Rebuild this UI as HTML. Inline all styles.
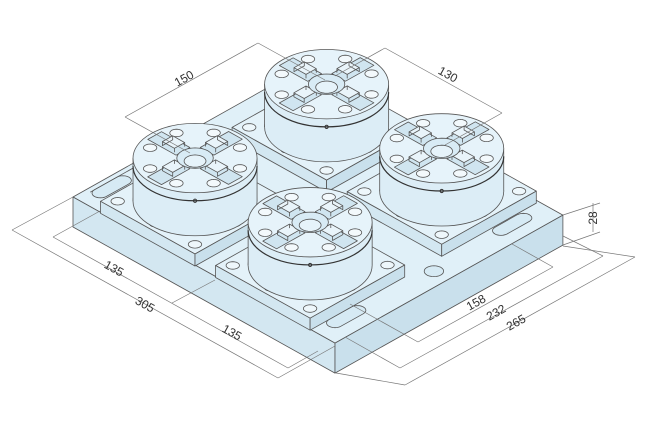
<!DOCTYPE html>
<html><head><meta charset="utf-8">
<style>
html,body{margin:0;padding:0;background:#fff;}
svg{display:block}
text{font-family:"Liberation Sans Narrow","Liberation Sans",sans-serif;font-size:12px;fill:#333;}
</style></head>
<body>
<svg id="s" width="661" height="432" viewBox="0 0 661 432" xmlns="http://www.w3.org/2000/svg">
<g id="g" stroke-linejoin="round"></g>
<g id="d" stroke="#777" stroke-width="0.7" fill="none">
  <!-- 150 -->
  <line x1="125" y1="117" x2="258" y2="43"/>
  <line x1="125" y1="117" x2="190" y2="153"/>
  <line x1="258" y1="43" x2="325" y2="80"/>
  <!-- 130 -->
  <line x1="385" y1="48" x2="502" y2="113"/>
  <line x1="385" y1="48" x2="335" y2="76"/>
  <line x1="502" y1="113" x2="445" y2="145"/>
  <!-- left dims -->
  <line x1="12" y1="230" x2="278" y2="378"/>
  <line x1="53" y1="237" x2="288" y2="368"/>
  <line x1="12" y1="230" x2="73" y2="197"/>
  <line x1="53" y1="237" x2="100" y2="211"/>
  <line x1="172" y1="303" x2="215" y2="280"/>
  <line x1="278" y1="378" x2="335" y2="346"/>
  <line x1="288" y1="368" x2="318" y2="351"/>
  <!-- right dims -->
  <line x1="418" y1="342" x2="553" y2="267"/>
  <line x1="400" y1="368" x2="603" y2="256"/>
  <line x1="405" y1="385" x2="635" y2="257"/>
  <line x1="418" y1="342" x2="350" y2="304"/>
  <line x1="400" y1="368" x2="345" y2="337"/>
  <line x1="405" y1="385" x2="336" y2="373"/>
  <line x1="553" y1="267" x2="512" y2="244"/>
  <line x1="603" y1="256" x2="563" y2="236"/>
  <line x1="635" y1="257" x2="563" y2="246"/>
  <!-- 28 -->
  <line x1="593" y1="203" x2="593" y2="232"/>
  <line x1="563" y1="215" x2="600" y2="203"/>
  <line x1="563" y1="245" x2="600" y2="232"/>
</g>
<g id="t">
  <text transform="translate(186,82) rotate(-29)" text-anchor="middle">150</text>
  <text transform="translate(446,78) rotate(29)" text-anchor="middle">130</text>
  <text transform="translate(112,272) rotate(29)" text-anchor="middle">135</text>
  <text transform="translate(143,308) rotate(29)" text-anchor="middle">305</text>
  <text transform="translate(230,336) rotate(29)" text-anchor="middle">135</text>
  <text transform="translate(478,306) rotate(-29)" text-anchor="middle">158</text>
  <text transform="translate(498,316) rotate(-29)" text-anchor="middle">232</text>
  <text transform="translate(518,326) rotate(-29)" text-anchor="middle">265</text>
  <text transform="translate(597,218) rotate(-90)" text-anchor="middle">28</text>
</g>
</svg>
<script>
(function(){
var g=document.getElementById('g');var out='';
var ST='#555',SW=0.8;
function P(x,y,z){z=z||0;return [73+0.859*x+0.86*y,197+0.479*x-0.483*y-z];}
function ps(a){return a.map(function(p){return p[0].toFixed(1)+','+p[1].toFixed(1);}).join(' ');}
function poly(a,f,s,w){out+='<polygon points="'+ps(a)+'" fill="'+(f||'none')+'" stroke="'+(s||ST)+'" stroke-width="'+(w||SW)+'"/>';}
function pl(a,s,w){out+='<polyline points="'+ps(a)+'" fill="none" stroke="'+(s||ST)+'" stroke-width="'+(w||SW)+'"/>';}
function circ(cx,cy,z,r,n){n=n||32;var a=[];for(var i=0;i<n;i++){var t=i/n*Math.PI*2;a.push(P(cx+r*Math.cos(t),cy+r*Math.sin(t),z));}return a;}
function obround(cx,cy,len,w,f){var a=[],h=len/2-w/2,r=w/2;for(var i=0;i<=12;i++){var t=Math.PI+i/12*Math.PI;a.push(P(cx+r*Math.cos(t),cy-h+r*Math.sin(t)*-1,0));}
 a=[];for(var i=0;i<=12;i++){var t=i/12*Math.PI;a.push(P(cx-r*Math.cos(t),cy-h-r*Math.sin(t),0));}
 for(var i=0;i<=12;i++){var t=i/12*Math.PI;a.push(P(cx+r*Math.cos(t),cy+h+r*Math.sin(t),0));}
 poly(a,f||'#d6eaf4');}
var TOP='#e0f0f8',SIDE='#d3e7f1',SIDE2='#c9e0ec';
// base plate
poly([P(0,0),P(305,0),P(305,265),P(0,265)],TOP);
poly([P(0,0),P(305,0),P(305,0,-30),P(0,0,-30)],SIDE);
poly([P(305,0),P(305,265),P(305,265,-30),P(305,0,-30)],SIDE2);
// slots & hole
obround(12,33,40,14);obround(284,34,40,14);obround(285,226,40,14);
poly(circ(288,132,0,8),'#d6eaf4');
// pockets near left
pl([P(5,15),P(5,100)]);
function chuck(cx,cy){
 var h=55,s=12,R=51;
 // subplate
 poly([P(cx-55,cy-55,s),P(cx+55,cy-55,s),P(cx+55,cy+55,s),P(cx-55,cy+55,s)],'#e4f2f9');
 poly([P(cx-55,cy-55,s),P(cx+55,cy-55,s),P(cx+55,cy-55,0),P(cx-55,cy-55,0)],SIDE);
 poly([P(cx+55,cy-55,s),P(cx+55,cy+55,s),P(cx+55,cy+55,0),P(cx+55,cy-55,0)],SIDE2);
 // subplate holes
 [[-45,-45],[45,-45],[45,45],[-45,45]].forEach(function(o,i){poly(circ(cx+o[0],cy+o[1],s,5.5),'#eef7fb');});
 [[-45,0],[0,-45],[45,0],[0,45]].forEach(function(o,i){poly(circ(cx+o[0]*1.05,cy+o[1]*1.05,s,4),'#222','#222');});
 // cylinder
 var c=P(cx,cy,0),rx=R*1.216,ry=R*0.68,yb=c[1]-s,yt=c[1]-h;
 out+='<ellipse cx="'+c[0]+'" cy="'+yb+'" rx="'+rx+'" ry="'+ry+'" fill="#dcedf6" stroke="'+ST+'" stroke-width="'+SW+'"/>';
 out+='<rect x="'+(c[0]-rx)+'" y="'+yt+'" width="'+(2*rx)+'" height="'+(yb-yt)+'" fill="#dcedf6"/>';
 out+='<line x1="'+(c[0]-rx)+'" y1="'+yt+'" x2="'+(c[0]-rx)+'" y2="'+yb+'" stroke="'+ST+'" stroke-width="'+SW+'"/>';
 out+='<line x1="'+(c[0]+rx)+'" y1="'+yt+'" x2="'+(c[0]+rx)+'" y2="'+yb+'" stroke="'+ST+'" stroke-width="'+SW+'"/>';
 out+='<path d="M'+(c[0]-rx)+','+(yt+8)+' A'+rx+','+ry+' 0 0 0 '+(c[0]+rx)+','+(yt+8)+'" fill="none" stroke="#333" stroke-width="1.2"/>';
 out+='<ellipse cx="'+c[0]+'" cy="'+yt+'" rx="'+rx+'" ry="'+ry+'" fill="#e6f3fa" stroke="'+ST+'" stroke-width="'+SW+'"/>';
 out+='<circle cx="'+c[0]+'" cy="'+(yt+ry+8)+'" r="1.6" fill="none" stroke="#333"/>';
 // top details
 for(var k=0;k<8;k++){var t=(k*45+22.5)*Math.PI/180;poly(circ(cx+40*Math.cos(t),cy+40*Math.sin(t),h,5.5),'#f3f9fc');}
 // jaws along axes
 [[1,0],[0,1],[-1,0],[0,-1]].forEach(function(d){
   var px=-d[1],py=d[0];function L(r,w,z){return P(cx+d[0]*r+px*w,cy+d[1]*r+py*w,z);}
   poly([L(14,-8,h),L(47,-8,h),L(47,8,h),L(14,8,h)],'#d0e5f0');
   poly([L(18,-6,h+4),L(32,-6,h+4),L(32,6,h+4),L(18,6,h+4)],'#e9f4fa');
   pl([L(32,-6,h+4),L(32,-6,h),L(32,6,h),L(32,6,h+4)]);
   pl([L(18,-6,h+4),L(18,-6,h)]);pl([L(18,6,h+4),L(18,6,h)]);
 });
 // center bore
 poly(circ(cx,cy,h,15),'#d8ebf5');poly(circ(cx,cy,h-3,9),'#e6f3fa');
}
chuck(88,207);chuck(88,54);chuck(222,207);chuck(222,54);
g.innerHTML=out;
})();
</script>
</body></html>
